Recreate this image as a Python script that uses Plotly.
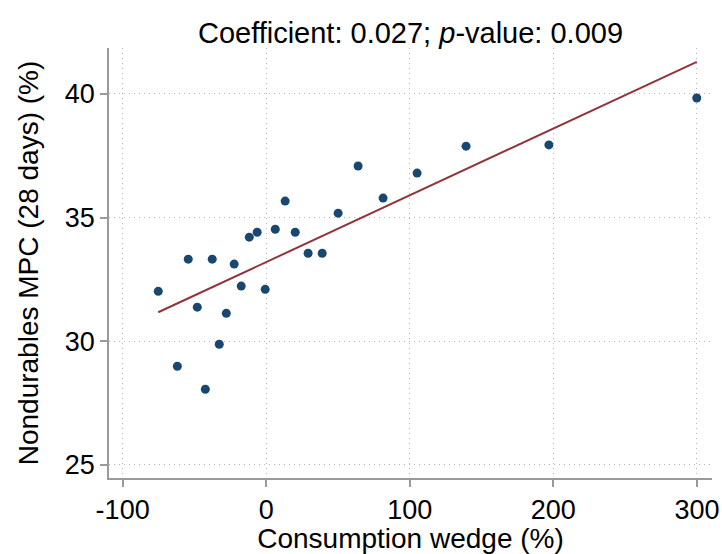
import numpy as np
import plotly.graph_objects as go

# Binned scatter: consumption wedge (%) vs nondurables MPC (28 days) (%)
wedge = [-75.2, -61.9, -54.3, -48.0, -42.4, -37.6, -32.7, -27.8, -22.3, -17.4,
         -11.8, -6.3, -0.7, 6.3, 13.2, 20.2, 29.2, 39.0, 50.1, 64.0,
         81.4, 105.1, 139.2, 196.9, 299.9]
mpc = [32.02, 28.99, 33.32, 31.38, 28.06, 33.32, 29.88, 31.13, 33.12, 32.23,
       34.21, 34.41, 32.10, 34.53, 35.67, 34.41, 33.56, 33.56, 35.18, 37.09,
       35.79, 36.80, 37.89, 37.94, 39.84]

coefficient = 0.027
p_value = 0.009

x_ticks = [-100, 0, 100, 200, 300]
x_tick_labels = ["-100", "0", "100", "200", "300"]
y_ticks = [25, 30, 35, 40]
y_tick_labels = ["25", "30", "35", "40"]

# fitted line with the reported coefficient, passing through the data means
intercept = np.mean(mpc) - coefficient * np.mean(wedge)
xf = np.array([min(wedge), max(wedge)])
yf = intercept + coefficient * xf

navy = "#1a476f"
maroon = "#90353b"
axis_col = "#9a9a9a"
grid_col = "#b4b4b4"
font_family = "Liberation Sans, Arial, sans-serif"

fig = go.Figure()
fig.add_trace(go.Scatter(x=wedge, y=mpc, mode="markers",
                         marker=dict(color=navy, size=9, line=dict(width=0)),
                         showlegend=False))
fig.add_trace(go.Scatter(x=xf, y=yf, mode="lines",
                         line=dict(color=maroon, width=2), showlegend=False))

fig.update_layout(
    width=722, height=554,
    margin=dict(l=109, r=10, t=48, b=76),
    paper_bgcolor="white", plot_bgcolor="white",
    font=dict(family=font_family, color="black", size=27),
    title=dict(text=f"Coefficient: {coefficient:.3f}; <i>p</i>-value: {p_value:.3f}",
               x=0.5, xref="paper", xanchor="center",
               y=1, yref="paper", yanchor="bottom", pad=dict(b=5),
               font=dict(size=29, family=font_family, color="black")),
    xaxis=dict(range=[-109.5, 310.5], tickvals=x_ticks, ticktext=x_tick_labels,
               automargin=False,
               showgrid=True, gridcolor=grid_col, griddash="1px,4px", gridwidth=1,
               zeroline=False, showline=True, linecolor=axis_col, linewidth=1.5,
               ticks="outside", ticklen=7, tickcolor=axis_col, tickwidth=1.5,
               tickfont=dict(size=27),
               title=dict(text="Consumption wedge (%)", font=dict(size=28), standoff=8)),
    yaxis=dict(range=[24.47, 41.86], tickvals=y_ticks, ticktext=y_tick_labels,
               automargin=False,
               showgrid=True, gridcolor=grid_col, griddash="1px,4px", gridwidth=1,
               zeroline=False, showline=True, linecolor=axis_col, linewidth=1.5,
               ticks="outside", ticklen=7, tickcolor=axis_col, tickwidth=1.5,
               tickfont=dict(size=27),
               title=dict(text="Nondurables MPC (28 days) (%)", font=dict(size=28), standoff=18)),
)

fig.write_html("out.html")
